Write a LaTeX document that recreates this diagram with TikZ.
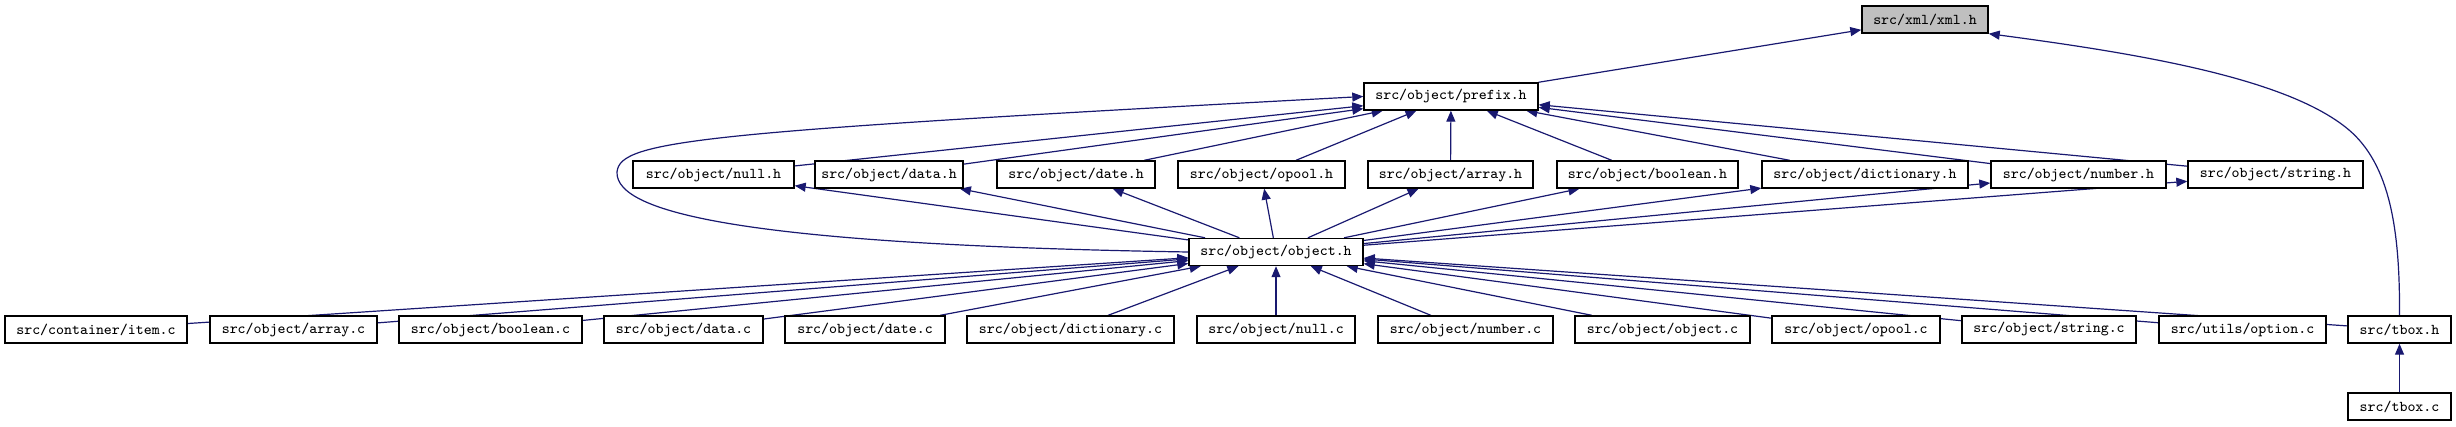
\documentclass[tikz,border=0pt]{standalone}
\usepackage{xcolor}
\usepackage{tikz}
\usetikzlibrary{arrows.meta,backgrounds}
\definecolor{EdgeNavy}{HTML}{191970}
\definecolor{RootGray}{HTML}{BFBFBF}

\tikzset{
  file/.style={draw=black, line width=0.7pt, fill=white, minimum height=13.5pt,
               inner sep=1pt, font=\ttfamily\fontsize{7.5}{9}\selectfont},
  incl/.style={draw=EdgeNavy, line width=0.6pt, -{Triangle[length=5.5pt,width=4.5pt]}},
}

\begin{document}
\begin{tikzpicture}[x=0.5pt, y=-0.5pt]
  \useasboundingbox (0,0) rectangle (2456,427);

  % top
  \node[file, fill=RootGray, minimum width=63pt] (xmlh) at (1925,19.5) {src/xml/xml.h};
  \node[file, minimum width=87pt] (prefixh) at (1451,96.5) {src/object/prefix.h};

  % headers
  \node[file, minimum width=80.5pt]  (nullh)       at (713.5,174.5)  {src/object/null.h};
  \node[file, minimum width=74pt]    (datah)       at (889,174.5)    {src/object/data.h};
  \node[file, minimum width=79pt]    (dateh)       at (1076,174.5)   {src/object/date.h};
  \node[file, minimum width=83.5pt]  (opoolh)      at (1261.5,174.5) {src/object/opool.h};
  \node[file, minimum width=82.5pt]  (arrayh)      at (1450.5,174.5) {src/object/array.h};
  \node[file, minimum width=90.5pt]  (booleanh)    at (1647.5,174.5) {src/object/boolean.h};
  \node[file, minimum width=103pt]   (dictionaryh) at (1865,174.5)   {src/object/dictionary.h};
  \node[file, minimum width=87.5pt]  (numberh)     at (2078.5,174.5) {src/object/number.h};
  \node[file, minimum width=87.5pt]  (stringh)     at (2275.5,174.5) {src/object/string.h};

  \node[file, minimum width=87pt] (objecth) at (1276,252) {src/object/object.h};

  % sources
  \node[file, minimum width=91pt]    (itemc)       at (96,329.5)     {src/container/item.c};
  \node[file, minimum width=83.5pt]  (arrayc)      at (293.5,329.5)  {src/object/array.c};
  \node[file, minimum width=91.5pt]  (booleanc)    at (490.5,329.5)  {src/object/boolean.c};
  \node[file, minimum width=79.5pt]  (datac)       at (683.5,329.5)  {src/object/data.c};
  \node[file, minimum width=80pt]    (datec)       at (865,329.5)    {src/object/date.c};
  \node[file, minimum width=103.5pt] (dictionaryc) at (1070.5,329.5) {src/object/dictionary.c};
  \node[file, minimum width=79pt]    (nullc)       at (1276,329.5)   {src/object/null.c};
  \node[file, minimum width=87.5pt]  (numberc)     at (1465.5,329.5) {src/object/number.c};
  \node[file, minimum width=87.5pt]  (objectc)     at (1662.5,329.5) {src/object/object.c};
  \node[file, minimum width=84pt]    (opoolc)      at (1856,329.5)   {src/object/opool.c};
  \node[file, minimum width=87pt]    (stringc)     at (2049,329.5)   {src/object/string.c};
  \node[file, minimum width=83.5pt]  (optionc)     at (2242.5,329.5) {src/utils/option.c};
  \node[file, minimum width=51.5pt]  (tboxh)       at (2399.5,329.5) {src/tbox.h};
  \node[file, minimum width=51.5pt]  (tboxc)       at (2399.5,406.5) {src/tbox.c};

  % edges, behind the boxes
  \begin{scope}[on background layer]
    \draw[incl] (prefixh) -- (xmlh);
    \draw[incl] (tboxh.north) .. controls (2400,230) and (2390,165) .. (2349,130)
                .. controls (2290,80) and (2150,55) .. (xmlh.south east);
    \foreach \h in {nullh,datah,dateh,opoolh,arrayh,booleanh,dictionaryh,numberh,stringh}{
      \draw[incl] (\h) -- (prefixh);
      \draw[incl] (objecth) -- (\h);
    }
    \draw[incl] (objecth.west) .. controls (760,245) and (615,215) .. (617,172)
                .. controls (620,140) and (700,132) .. (prefixh.west);
    \foreach \c in {itemc,arrayc,booleanc,datac,datec,dictionaryc,nullc,numberc,
                    objectc,opoolc,stringc,optionc,tboxh}
      \draw[incl] (\c) -- (objecth);
    \draw[incl] (tboxc) -- (tboxh);
  \end{scope}
\end{tikzpicture}
\end{document}
